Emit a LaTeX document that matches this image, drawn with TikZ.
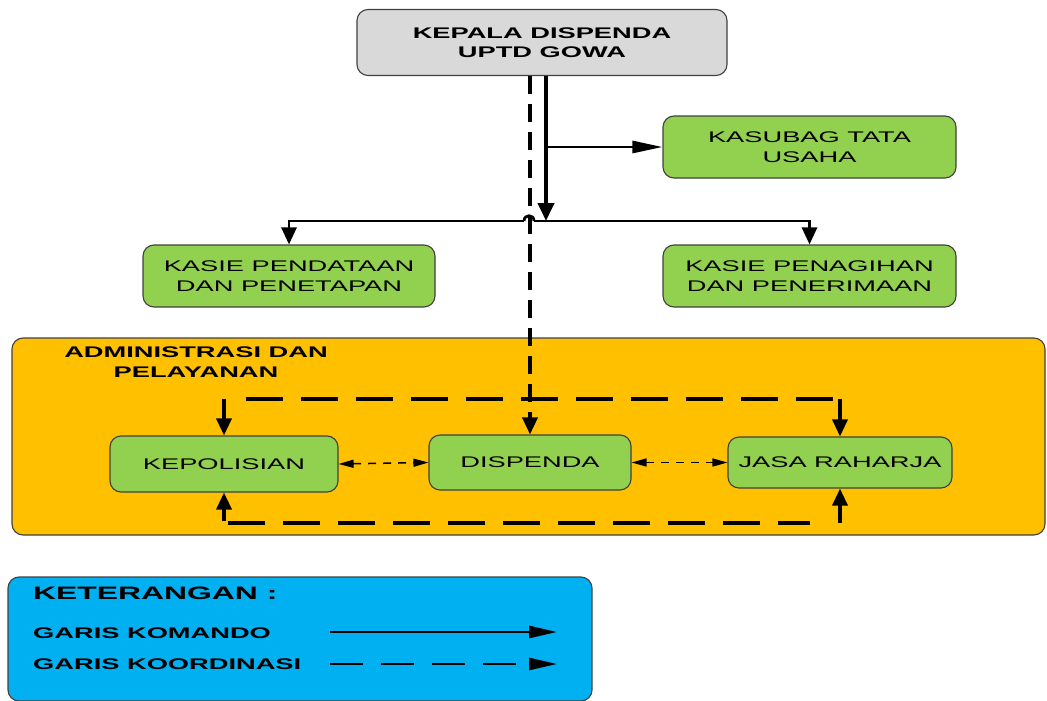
\documentclass[tikz,border=0pt]{standalone}
\usepackage{fontspec}
\setmainfont{Liberation Sans}[FakeStretch=1.77]
\usetikzlibrary{arrows.meta}
\definecolor{grn}{HTML}{92D050}
\definecolor{gry}{HTML}{D9D9D9}
\definecolor{ylw}{HTML}{FFC000}
\definecolor{blu}{HTML}{00B0F0}
\newcommand{\fsn}{\fontsize{15.4}{19.5}\selectfont}
\begin{document}
\begin{tikzpicture}[x=1pt,y=-1pt,
  box/.style={draw=black!75, line width=1.1pt, rounded corners=11pt, inner sep=0pt, align=center, font=\fsn},
  gbox/.style={box, fill=grn},
  cmd/.style={line width=2.8pt, black},
  cmdthick/.style={line width=4pt, black},
  coordv/.style={line width=3.6pt, black, dash pattern=on 18pt off 10pt},
  coordh/.style={line width=3.4pt, black, dash pattern=on 37pt off 18pt},
  thind/.style={line width=1.5pt, black, dash pattern=on 8pt off 7pt},
  bigtip/.style={-{Triangle[length=17pt,width=15pt]}},
  medtip/.style={-{Triangle[length=17pt,width=15pt]}},
  longtip/.style={-{Triangle[length=28pt,width=12pt]}},
  thintips/.style={{Triangle[length=15pt,width=8pt]}-{Triangle[length=15pt,width=8pt]}},
  lbl/.style={inner sep=0pt, anchor=west, font=\fsn\bfseries}
]
\useasboundingbox (0,0) rectangle (1047,701);

% containers
\node[box, fill=ylw, minimum width=1033pt, minimum height=197pt] (adm) at (528.5,436.5) {};
\node[box, fill=blu, minimum width=584pt, minimum height=124pt] (leg) at (300,639) {};

% main boxes
\node[box, fill=gry, minimum width=370pt, minimum height=66pt, font=\fsn\bfseries] (kepala) at (542,42.5) {KEPALA DISPENDA\\UPTD GOWA};
\node[gbox, minimum width=293pt, minimum height=62pt] (kasubag) at (809.5,147) {KASUBAG TATA\\USAHA};
\node[gbox, minimum width=292pt, minimum height=62pt] (pendataan) at (289,276) {KASIE PENDATAAN\\DAN PENETAPAN};
\node[gbox, minimum width=293pt, minimum height=62pt] (penagihan) at (809.5,276) {KASIE PENAGIHAN\\DAN PENERIMAAN};

\node[inner sep=0pt, align=center, font=\fsn\bfseries] (admtitle) at (196,362) {ADMINISTRASI DAN\\PELAYANAN};

\node[gbox, minimum width=228pt, minimum height=56pt] (kep) at (224,464) {KEPOLISIAN};
\node[gbox, minimum width=202pt, minimum height=55pt] (disp) at (530,462.5) {DISPENDA};
\node[gbox, minimum width=224pt, minimum height=51pt] (jasa) at (840,462.5) {JASA RAHARJA};

% legend texts
\node[lbl, font=\fontsize{18}{20}\selectfont\bfseries] (ket) at (33,593) {KETERANGAN :};
\node[lbl] (gk) at (33,633) {GARIS KOMANDO};
\node[lbl] (gko) at (33,664) {GARIS KOORDINASI};
\coordinate (l1a) at (330,632);
\coordinate (l1b) at (557,632);
\coordinate (l2a) at (330,664);
\coordinate (l2b) at (557,664);
\draw[cmd, longtip] (l1a) -- (l1b);
\draw[line width=2.6pt, dash pattern=on 33pt off 18pt, longtip] (l2a) -- (l2b);

% command lines
\coordinate (j) at (546,221);
\coordinate (hopL) at (524,221);
\coordinate (hopR) at (534,221);
\draw[cmdthick, -{Triangle[length=18pt,width=16pt]}] (kepala.south -| j) -- (j);
\draw[cmd, -{Triangle[length=30pt,width=12pt]}] (j |- kasubag.west) -- (kasubag.west);
\draw[cmd, medtip] (hopL) -| (pendataan.north);
\draw[cmd, medtip] (hopR) -| (penagihan.north);
\draw[cmd] (hopL) .. controls +(0,-7) and +(0,-7) .. (hopR);

% coordination lines
\draw[coordv, bigtip] (kepala.south -| disp.north) -- (disp.north);
\coordinate (tl) at (224,399);
\coordinate (tr) at (840,399);
\coordinate (bl) at (224,523);
\coordinate (br) at (840,523);
\draw[coordh] ([xshift=22pt]tl) -- (tr);
\draw[coordh] ([xshift=4pt]bl) -- ([xshift=-30pt]br);
\draw[line width=3.4pt, bigtip] (tl) -- (kep.north);
\draw[line width=3.4pt, bigtip] (tr) -- (jasa.north);
\draw[line width=3.4pt, bigtip] ([yshift=1.7pt]bl) -- (kep.south);
\draw[line width=3.4pt, bigtip] (br) -- (jasa.south);
\draw[thind, thintips] (kep.east) -- (disp.west);
\draw[thind, thintips] (disp.east) -- (jasa.west);
\end{tikzpicture}
\end{document}
